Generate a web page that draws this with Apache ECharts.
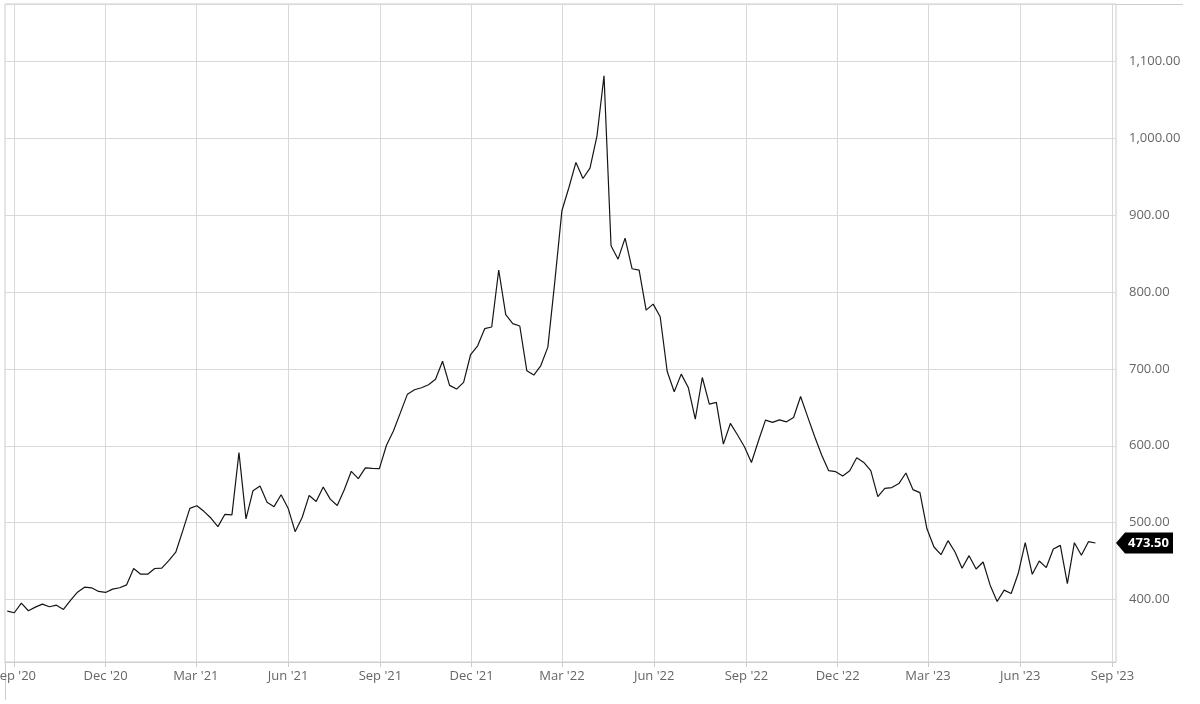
<!DOCTYPE html>
<html>
<head>
<meta charset="utf-8">
<script src="https://cdn.jsdelivr.net/npm/echarts@6/dist/echarts.min.js"></script>
<style>
html,body{margin:0;padding:0;background:#ffffff;}
#chart{width:1200px;height:704px;}
</style>
</head>
<body>
<div id="chart"></div>
<script>
// Weekly closing prices, first week starting below
const firstWeek = '2020-08-25';
const prices = [
  384.8, 382.7, 395.2, 385.3, 390.0, 393.9, 390.5, 392.6, 387.0, 398.7,
  409.5, 416.0, 415.2, 410.4, 409.1, 413.4, 415.2, 419.0, 440.3, 432.9,
  432.9, 440.3, 440.7, 450.6, 461.5, 489.6, 518.6, 522.0, 514.7, 506.0,
  494.8, 510.8, 510.0, 591.3, 504.8, 541.6, 547.6, 526.4, 520.8, 536.2,
  518.8, 488.2, 506.6, 535.4, 527.5, 546.3, 530.6, 522.3, 542.8, 566.8,
  557.2, 571.2, 570.7, 570.3, 600.4, 619.2, 643.2, 667.2, 672.9, 675.5,
  679.5, 686.5, 710.0, 678.6, 673.8, 682.5, 718.8, 730.1, 752.4, 754.6,
  828.8, 770.7, 759.0, 755.9, 697.8, 692.1, 704.4, 728.4, 814.7, 905.9,
  936.2, 968.8, 947.9, 961.4, 1003.5, 1081.6, 860.3, 842.9, 870.3, 830.4,
  828.6, 776.6, 784.4, 767.9, 696.7, 670.3, 693.3, 675.9, 634.7, 688.9,
  654.2, 656.4, 602.2, 629.1, 614.3, 598.7, 578.3, 606.5, 633.4, 630.4,
  633.8, 631.2, 636.9, 664.2, 638.0, 612.0, 588.0, 567.6, 566.3, 560.7,
  567.6, 584.4, 578.4, 567.6, 533.9, 544.7, 545.6, 550.8, 564.6, 543.0,
  539.1, 492.0, 468.3, 458.3, 476.5, 461.8, 440.6, 457.0, 439.7, 448.8,
  418.6, 397.4, 412.1, 407.8, 433.7, 473.9, 432.8, 450.1, 441.5, 465.7,
  470.4, 420.7, 473.9, 457.5, 475.2, 473.5
];
const tickDates = ['2020-09-01','2020-12-01','2021-03-01','2021-06-01','2021-09-01','2021-12-01',
  '2022-03-01','2022-06-01','2022-09-01','2022-12-01','2023-03-01','2023-06-01','2023-09-01'];
const tickLabels = ["Sep '20","Dec '20","Mar '21","Jun '21","Sep '21","Dec '21",
  "Mar '22","Jun '22","Sep '22","Dec '22","Mar '23","Jun '23","Sep '23"];
const lastPriceLabel = '473.50';

function parseDay(s, extraHours) {
  const p = s.split('-').map(Number);
  return Date.UTC(p[0], p[1] - 1, p[2], extraHours || 0);
}
const start = firstWeek.split('-').map(Number);
const seriesData = prices.map(function (v, i) {
  return [Date.UTC(start[0], start[1] - 1, start[2] + 7 * i), v];
});
const tickValues = tickDates.map(function (d) { return parseDay(d); });
const xMin = parseDay('2020-08-22', 17);
const xMax = parseDay('2023-09-04', 12);
const lastValue = prices[prices.length - 1];

function fmt(v) {
  const parts = v.toFixed(2).split('.');
  return parts[0].replace(/\B(?=(\d{3})+$)/g, ',') + '.' + parts[1];
}
function nearestLabel(value) {
  let best = -1, bestD = Infinity;
  for (let i = 0; i < tickValues.length; i++) {
    const d = Math.abs(tickValues[i] - value);
    if (d < bestD) { bestD = d; best = i; }
  }
  return bestD < 86400000 ? tickLabels[best] : '';
}

const chart = echarts.init(document.getElementById('chart'), null, { renderer: 'canvas' });
chart.setOption({
  animation: false,
  backgroundColor: '#ffffff',
  textStyle: { fontFamily: '"Open Sans", "Noto Sans", sans-serif' },
  grid: {
    left: 5, right: 84, top: 4, bottom: 42,
    containLabel: false,
    outerBoundsMode: 'none',
    show: true, borderColor: '#cccccc', borderWidth: 1
  },
  graphic: [
    { type: 'line', silent: true, shape: { x1: 5, y1: 4.5, x2: 1183, y2: 4.5 }, style: { stroke: '#cccccc', lineWidth: 1 } },
    { type: 'line', silent: true, shape: { x1: 5.5, y1: 662, x2: 5.5, y2: 700 }, style: { stroke: '#cccccc', lineWidth: 1 } }
  ],
  xAxis: {
    type: 'value',
    min: xMin,
    max: xMax,
    axisLine: { show: true, onZero: false, lineStyle: { color: '#cccccc' } },
    axisTick: { show: true, length: 5, lineStyle: { color: '#cccccc' }, customValues: tickValues },
    axisLabel: {
      customValues: tickValues,
      showMinLabel: true, showMaxLabel: true,
      color: '#666666', fontSize: 13, margin: 8,
      formatter: nearestLabel
    },
    splitLine: { show: true, lineStyle: { color: '#d9d9d9', width: 1 } }
  },
  yAxis: {
    type: 'value',
    position: 'right',
    min: 318.6,
    max: 1175,
    splitNumber: 8,
    axisLine: { show: false },
    axisTick: { show: false },
    axisLabel: {
      color: '#666666', fontSize: 13, margin: 13,
      showMinLabel: false, showMaxLabel: false,
      formatter: fmt
    },
    splitLine: { show: true, lineStyle: { color: '#d9d9d9', width: 1 } }
  },
  series: [{
    type: 'line',
    data: seriesData,
    showSymbol: false,
    symbol: 'none',
    lineStyle: { color: '#151515', width: 1.2 },
    markPoint: {
      silent: true,
      symbol: 'path://M0,10.5 L9,0 L57,0 L57,21 L9,21 Z',
      symbolSize: [57, 21],
      symbolKeepAspect: false,
      symbolOffset: ['50%', 0],
      itemStyle: { color: '#000000' },
      label: {
        show: true, position: 'inside', offset: [4, 0],
        color: '#ffffff', fontWeight: 'bold', fontSize: 13,
        formatter: lastPriceLabel
      },
      data: [{ coord: [xMax, lastValue], value: lastValue }]
    }
  }]
});
</script>
</body>
</html>
